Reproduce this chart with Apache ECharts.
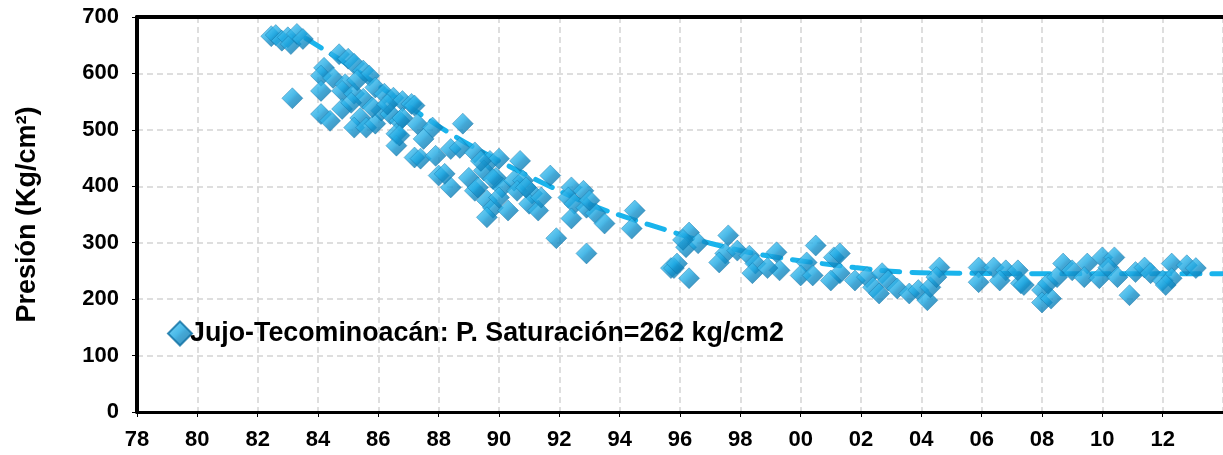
<!DOCTYPE html>
<html>
<head>
<meta charset="utf-8">
<script src="https://cdn.jsdelivr.net/npm/echarts@6/dist/echarts.min.js"></script>
<style>
  html, body { margin: 0; padding: 0; background: #ffffff; }
  #chart { width: 1223px; height: 455px; }
</style>
</head>
<body>
<div id="chart"></div>
<script>
// ---- Data ----
const seriesName = 'Jujo-Tecominoacán: P. Saturación=262 kg/cm2';
const yAxisTitle = 'Presión (Kg/cm²)';

// measured pressures: [year, pressure kg/cm2]
const measured = [
  [1982.45,666],[1982.6,668],[1982.8,658],[1983.0,664],[1983.1,652],[1983.3,670],[1983.5,661],[1983.15,556],
  [1984.7,634],[1985.0,626],[1985.2,617],[1985.5,605],[1985.7,596],[1984.2,610],[1984.1,596],[1984.5,592],
  [1984.9,581],[1984.1,569],[1984.8,569],[1985.2,564],[1985.5,555],[1985.9,575],[1986.2,564],[1986.5,557],
  [1986.8,551],[1984.1,528],[1984.4,516],[1984.8,537],[1985.1,548],[1985.4,521],[1985.2,504],[1985.6,504],
  [1985.9,511],[1986.1,534],[1986.4,528],[1986.7,516],[1986.6,493],[1986.6,472],[1987.1,546],[1987.2,543],
  [1986.8,521],[1987.3,510],[1987.8,504],[1986.7,490],[1987.5,484],[1987.2,451],[1987.4,449],[1987.9,454],
  [1985.3,588],[1985.8,540],[1986.3,545],
  [1988.8,511],[1988.4,466],[1988.7,468],[1988.0,419],[1988.4,398],[1988.2,422],[1989.2,460],[1989.0,415],
  [1989.2,392],[1989.7,445],[1989.5,428],[1990.0,449],[1989.9,415],[1990.1,398],[1989.6,375],[1989.8,362],
  [1989.6,345],[1990.0,380],[1990.7,445],[1990.5,410],[1990.8,410],[1990.6,392],[1991.1,387],[1991.0,369],
  [1991.3,357],[1989.4,445],[1989.8,413],[1990.3,357],[1991.4,380],[1991.7,419],[1990.9,398],[1989.3,398],
  [1991.9,308],[1992.4,398],[1992.8,392],[1992.3,380],[1992.5,369],[1992.9,362],[1992.4,343],[1993.2,352],
  [1993.5,334],[1992.9,281],[1994.5,357],[1994.4,325],[1993.0,375],
  [1995.7,255],[1995.8,255],[1995.9,263],[1996.3,318],[1996.2,292],[1996.6,299],[1996.3,237],[1997.6,313],
  [1997.5,281],[1997.3,265],[1997.9,286],[1998.3,277],[1998.5,263],[1998.4,246],[1999.2,283],[1999.3,251],
  [1998.9,255],[2000.2,265],[2000.0,242],[2000.5,295],[2000.4,242],[2001.1,274],[2001.3,246],[2001.0,233],
  [1996.1,305],
  [2001.3,281],[2001.8,233],[2002.2,239],[2002.4,221],[2002.7,246],[2002.9,233],[2002.6,210],[2003.2,219],
  [2003.6,210],[2003.9,216],[2004.2,198],[2004.3,221],[2004.6,256],[2004.5,239],[2005.9,256],[2005.9,230],
  [2006.4,256],[2006.8,251],[2006.6,233],[2007.3,228],[2007.2,251],
  [2007.4,225],[2008.0,216],[2008.0,194],[2008.3,201],[2008.2,228],[2008.7,263],[2008.5,239],[2009.0,251],
  [2009.5,263],[2009.4,239],[2009.9,237],[2010.0,274],[2010.4,274],[2010.2,256],[2010.5,239],[2010.9,207],
  [2011.1,248],[2011.4,256],[2011.6,246],[2012.0,233],[2012.3,263],[2012.3,237],[2012.1,225],[2012.8,260],
  [2013.1,255]
];

// trend (dashed) curve
const trendYears  = [1983.6, 1985, 1986.5, 1988.4, 1990, 1991.3, 1993, 1994.5, 1995.4, 1997, 1999, 2001.8, 2003.4, 2005.2, 2008, 2011, 2014];
const trendValues = [662, 615, 560, 493, 445, 410, 368, 340, 325, 299, 276, 256, 248, 246, 245, 245, 245];

const xMin = 1978, xMax = 2014, xStep = 2;
const yMin = 0, yMax = 700, yStep = 100;

// ---- Chart ----
const FONT = 'Arial, "Liberation Sans", sans-serif';
const chart = echarts.init(document.getElementById('chart'), null, { renderer: 'canvas' });

const diamondFill = new echarts.graphic.LinearGradient(0, 0, 1, 1, [
  { offset: 0, color: '#62d2fa' },
  { offset: 0.45, color: '#1ea8e2' },
  { offset: 0.55, color: '#1592cc' },
  { offset: 1, color: '#0a6b9e' }
]);

const gridLine = { show: true, lineStyle: { color: '#d4d4d4', width: 1.5, type: [6, 4] } };

chart.setOption({
  animation: false,
  backgroundColor: '#ffffff',
  grid: { left: 137, top: 17, bottom: 43, right: -6 },
  legend: {
    data: [seriesName],
    left: 162, top: 315,
    icon: 'diamond',
    itemWidth: 24, itemHeight: 24, itemGap: 4,
    textStyle: { fontFamily: FONT, fontWeight: 'bold', fontSize: 26.8, color: '#000000', padding: [0,0,0,-7] }
  },
  xAxis: [
    {
      type: 'value', min: xMin, max: xMax, interval: xStep, position: 'bottom',
      axisLine: { show: true, onZero: false, lineStyle: { color: '#000000', width: 3 } },
      axisTick: { show: true, inside: false, length: 5, lineStyle: { color: '#000000', width: 1 } },
      axisLabel: {
        showMaxLabel: false, margin: 17,
        fontFamily: FONT, fontWeight: 'bold', fontSize: 22, color: '#000000',
        formatter: v => String(Math.round(v) % 100).padStart(2, '0')
      },
      splitLine: gridLine
    },
    {
      type: 'value', min: xMin, max: xMax, interval: xStep, position: 'top',
      axisLine: { show: true, onZero: false, lineStyle: { color: '#000000', width: 4 } },
      axisTick: { show: false }, axisLabel: { show: false }, splitLine: { show: false }
    }
  ],
  yAxis: {
    type: 'value', min: yMin, max: yMax, interval: yStep,
    name: yAxisTitle, nameLocation: 'middle', nameGap: 96, nameRotate: 90,
    nameTextStyle: { fontFamily: FONT, fontWeight: 'bold', fontSize: 27, color: '#000000' },
    axisLine: { show: true, lineStyle: { color: '#000000', width: 4 } },
    axisTick: { show: true, inside: false, length: 5, lineStyle: { color: '#000000', width: 1 } },
    axisLabel: { margin: 18, fontFamily: FONT, fontWeight: 'bold', fontSize: 22, color: '#000000' },
    splitLine: gridLine
  },
  series: [
    {
      name: 'trend', type: 'line', z: 1, xAxisIndex: 0,
      data: trendYears.map((y, i) => [y, trendValues[i]]),
      smooth: 0.35, showSymbol: false, silent: true,
      lineStyle: { color: '#1ab4ec', width: 5, type: [18, 12], cap: 'round' }
    },
    {
      name: seriesName, type: 'scatter', z: 3, xAxisIndex: 0,
      data: measured,
      symbol: 'diamond', symbolSize: 21,
      itemStyle: { color: diamondFill, borderColor: '#0c6fa3', borderWidth: 0.5 }
    }
  ]
});
</script>
</body>
</html>
